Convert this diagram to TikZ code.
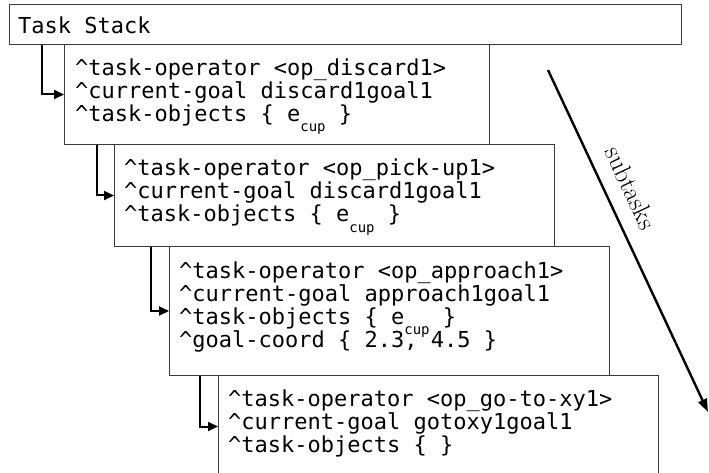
\documentclass[tikz,border=0pt]{standalone}
\usepackage{fontspec}
\usetikzlibrary{arrows.meta}
\newfontfamily\boxfont{DejaVu Sans Mono}
\definecolor{boxline}{HTML}{3A3A3A}
\newcommand{\caret}{\textasciicircum}
\newcommand{\ecup}{e\raisebox{-10pt}{\fontsize{14}{14}\selectfont cup}}
\tikzset{
  stackbox/.style={draw=boxline, line width=1pt, fill=white, anchor=north west, inner sep=0pt},
  txt/.style={anchor=base west, inner sep=0pt, font=\boxfont\fontsize{22}{23}\selectfont},
  conn/.style={draw=black, line width=2pt, -{Triangle[length=10pt,width=9pt]}},
  bigarrow/.style={draw=black, line width=2.4pt, -{Triangle[length=13pt,width=9pt]}},
  lbl/.style={font=\fontsize{26}{30}\selectfont, inner sep=0pt}
}
\begin{document}
\begin{tikzpicture}[x=1pt, y=-1pt]
\useasboundingbox (0,0) rectangle (709,473);
\fill[white] (0,0) rectangle (709,473);
\clip (0,0) rectangle (709,473);

% boxes
\node[stackbox, minimum width=672pt, minimum height=40pt] (ts) at (9,4) {};
\node[stackbox, minimum width=425pt, minimum height=100pt] (b1) at (64,44) {};
\node[stackbox, minimum width=440pt, minimum height=102pt] (b2) at (114,144) {};
\node[stackbox, minimum width=440pt, minimum height=129pt] (b3) at (169,246) {};
\node[stackbox, minimum width=440pt, minimum height=102pt] (b4) at (218,375) {};

% texts
\node[txt] (t0) at (18,34) {Task Stack};

\node[txt] (t11) at (75,76) {\caret task-operator <op\_discard1>};
\node[txt] (t12) at (75,99) {\caret current-goal discard1goal1};
\node[txt] (t13) at (75,122) {\caret task-objects \{ \ecup\ \}};

\node[txt] (t21) at (124,176) {\caret task-operator <op\_pick-up1>};
\node[txt] (t22) at (124,199) {\caret current-goal discard1goal1};
\node[txt] (t23) at (124,222) {\caret task-objects \{ \ecup\ \}};

\node[txt] (t31) at (179,278) {\caret task-operator <op\_approach1>};
\node[txt] (t32) at (179,301) {\caret current-goal approach1goal1};
\node[txt] (t33) at (179,324) {\caret task-objects \{ \ecup\ \}};
\node[txt] (t34) at (179,347) {\caret goal-coord \{ 2.3, 4.5 \}};

\node[txt] (t41) at (228,406) {\caret task-operator <op\_go-to-xy1>};
\node[txt] (t42) at (228,429) {\caret current-goal gotoxy1goal1};
\node[txt] (t43) at (228,452) {\caret task-objects \{ \}};

% connectors
\draw[conn] ([xshift=33pt]ts.south west) |- (b1.west);
\draw[conn] ([xshift=33pt]b1.south west) |- (b2.west);
\draw[conn] ([xshift=37pt]b2.south west) |- (b3.west);
\draw[conn] ([xshift=31pt]b3.south west) |- (b4.west);

% subtasks arrow
\coordinate (as) at (548,70);
\coordinate (ae) at (708,412);
\draw[bigarrow] (as) -- (ae);
\node[lbl, rotate=-64.9] (sub) at (631,188) {subtasks};
\end{tikzpicture}
\end{document}
